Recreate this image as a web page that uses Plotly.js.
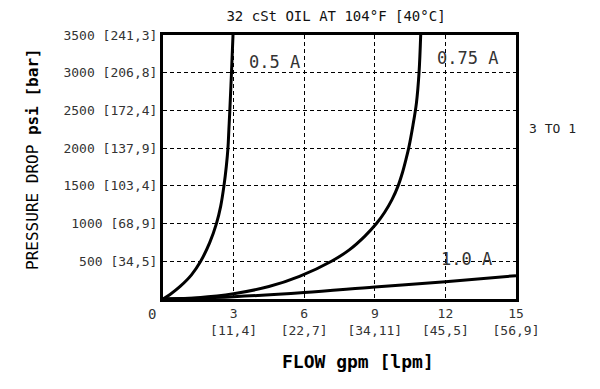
<!DOCTYPE html>
<html>
<head>
<meta charset="utf-8">
<script src="https://cdn.plot.ly/plotly-3.0.1.min.js"></script>
<style>html,body{margin:0;padding:0;background:#fff}#chart{width:600px;height:389px}</style>
</head>
<body>
<div id="chart"></div>
<script>
// Data
const flow05 = [0, 0.3, 0.74, 1.21, 1.6, 1.98, 2.27, 2.45, 2.59, 2.69, 2.76, 2.80, 2.84, 2.91, 2.975];
const psi05  = [0, 60, 170, 320, 500, 744, 1000, 1228, 1500, 1757, 2000, 2250, 2500, 3000, 3500];
const flow075 = [0, 1.5, 3, 4.5, 5.8, 7.16, 7.93, 8.57, 9.07, 9.42, 9.73, 9.99, 10.17, 10.32, 10.44, 10.62, 10.77, 10.88, 10.95];
const psi075  = [0, 18, 70, 165, 300, 500, 655, 831, 1000, 1150, 1317, 1500, 1670, 1846, 2000, 2300, 2600, 3000, 3500];
const flow10 = [0, 3, 6, 9, 12, 15];
const psi10  = [0, 30, 85, 160, 230, 310];
const xTickVals = [3, 6, 9, 12, 15];
const xTickText = ["3<br>[11,4]", "6<br>[22,7]", "9<br>[34,11]", "12<br>[45,5]", "15<br>[56,9]"];
const yTickVals = [500, 1000, 1500, 2000, 2500, 3000, 3500];
const yTickText = ["500 [34,5]", "1000 [68,9]", "1500 [103,4]", "2000 [137,9]", "2500 [172,4]", "3000 [206,8]", "3500 [241,3]"];
const curveLabels = [
  {text: "0.5 A", x: 4.72, y: 3143},
  {text: "0.75 A", x: 12.96, y: 3196},
  {text: "1.0 A", x: 12.88, y: 536}
];

const FONT = "DejaVu Sans Mono, monospace";
const line = {color: "#000", width: 3, shape: "spline", smoothing: 1};
const traces = [
  {x: flow05, y: psi05, mode: "lines", line: line, hoverinfo: "skip"},
  {x: flow075, y: psi075, mode: "lines", line: line, hoverinfo: "skip"},
  {x: flow10, y: psi10, mode: "lines", line: line, hoverinfo: "skip"}
];

const annotations = curveLabels.map(l => ({
  text: l.text, x: l.x, y: l.y, xref: "x", yref: "y", showarrow: false,
  font: {family: FONT, size: 17, color: "#333"}
}));
annotations.push({text: "0", x: -0.03, y: -0.02, xref: "paper", yref: "paper",
  xanchor: "center", yanchor: "top", showarrow: false, font: {family: FONT, size: 14, color: "#333"}});
annotations.push({text: "3 TO 1", x: 1.03, y: 0.645, xref: "paper", yref: "paper", xanchor: "left",
  showarrow: false, font: {family: FONT, size: 13, color: "#222"}});
annotations.push({text: "<b>FLOW gpm [lpm]</b>", x: 0.552, y: -0.236, xref: "paper", yref: "paper",
  xanchor: "center", yanchor: "middle", showarrow: false, font: {family: FONT, size: 18, color: "#000"}});
annotations.push({text: "PRESSURE DROP <b>psi [bar]</b>", x: -0.368, y: 0.531, xref: "paper", yref: "paper",
  xanchor: "center", yanchor: "middle", textangle: -90, showarrow: false,
  font: {family: FONT, size: 16, color: "#000"}});

const layout = {
  width: 600, height: 389,
  margin: {l: 163, r: 84, t: 35, b: 90},
  paper_bgcolor: "#fff", plot_bgcolor: "#fff",
  showlegend: false,
  font: {family: FONT, color: "#222"},
  title: {text: "32 cSt OIL AT 104°F [40°C]", x: 0.56, xanchor: "center", y: 0.97, yanchor: "top",
    font: {family: FONT, size: 14, color: "#111"}},
  xaxis: {
    range: [0, 15], tickvals: xTickVals, ticktext: xTickText, ticks: "",
    showgrid: true, gridcolor: "#000", gridwidth: 1, griddash: "4px,3px",
    showline: true, linecolor: "#000", linewidth: 3, mirror: true, zeroline: false,
    tickfont: {family: FONT, size: 13, color: "#333"}
  },
  yaxis: {
    range: [0, 3500], tickvals: yTickVals, ticktext: yTickText, ticks: "",
    showgrid: true, gridcolor: "#000", gridwidth: 1, griddash: "4px,3px",
    showline: true, linecolor: "#000", linewidth: 3, mirror: true, zeroline: false,
    tickfont: {family: FONT, size: 13, color: "#333"}
  },
  annotations: annotations
};

Plotly.newPlot("chart", traces, layout, {staticPlot: true, displayModeBar: false});
</script>
</body>
</html>
